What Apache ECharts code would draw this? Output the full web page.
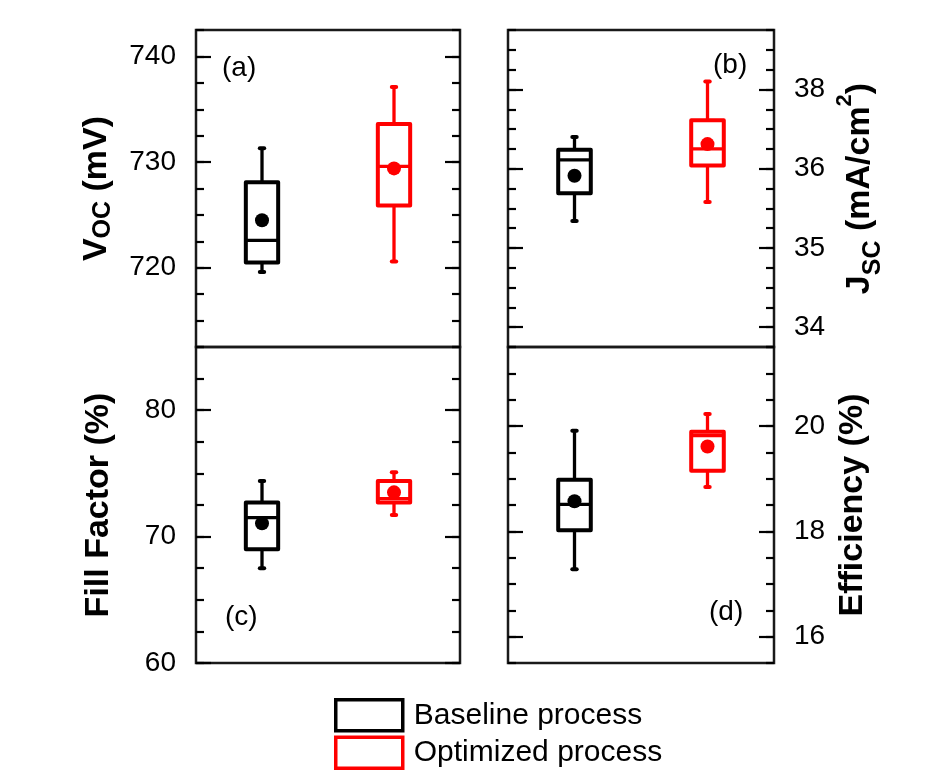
<!DOCTYPE html>
<html><head><meta charset="utf-8">
<script src="https://cdn.jsdelivr.net/npm/echarts@6/dist/echarts.min.js"></script>
<style>html,body{margin:0;padding:0;background:#fff}#c{width:952px;height:782px}</style>
</head><body><div id="c"></div>
<script>
const categories = ['Baseline process', 'Optimized process'];
// each: [low whisker, Q1, median, Q3, high whisker, mean]
const vocBaseline  = [719.6, 720.5, 722.6, 728.1, 731.3, 724.5];
const vocOptimized = [720.6, 725.9, 729.6, 733.6, 737.1, 729.4];
const jscBaseline  = [35.34, 35.69, 36.11, 36.24, 36.40, 35.91];
const jscOptimized = [35.58, 36.04, 36.25, 36.61, 37.10, 36.31];
const ffBaseline   = [67.5, 69.0, 71.5, 72.7, 74.4, 71.05];
const ffOptimized  = [71.7, 72.7, 73.0, 74.4, 75.1, 73.5];
const effBaseline  = [17.28, 18.02, 18.51, 18.98, 19.91, 18.57];
const effOptimized = [18.84, 19.15, 19.82, 19.89, 20.23, 19.61];

const vocTicks = [720, 730, 740];
const jscTicks = [34, 35, 36, 37];
const jscTickLabels = ['34', '35', '36', '38'];
const ffTicks = [60, 70, 80];
const effTicks = [16, 18, 20];
const panelLabels = ['(a)', '(b)', '(c)', '(d)'];

const FONT = 'Liberation Sans';
const BLACK = '#000000', RED = '#ff0000';

const panels = [
  { grid: {left: 196, top: 30, width: 264, height: 317}, min: 712.5, max: 742.5, minor: 2.5,
    ticks: vocTicks, labels: null, side: 'left', name: '{b|V}{s|OC}{b| (mV)}', nameGap: 80, L: 38,
    base: vocBaseline, opt: vocOptimized },
  { grid: {left: 508, top: 30, width: 266, height: 317}, min: 33.75, max: 37.75, minor: 0.25,
    ticks: jscTicks, labels: jscTickLabels, side: 'right', name: '{b|J}{s|SC}{b| (mA/cm}{p|2}{b|)}', nameGap: 60, L: 52,
    base: jscBaseline, opt: jscOptimized },
  { grid: {left: 196, top: 347, width: 264, height: 316}, min: 60, max: 85, minor: 2.5,
    ticks: ffTicks, labels: null, side: 'left', name: '{b|Fill Factor (%)}', nameGap: 78, L: 38,
    base: ffBaseline, opt: ffOptimized },
  { grid: {left: 508, top: 347, width: 266, height: 316}, min: 15.5, max: 21.5, minor: 0.5,
    ticks: effTicks, labels: null, side: 'right', name: '{b|Efficiency (%)}', nameGap: 60, L: 38,
    base: effBaseline, opt: effOptimized }
];

function makeRender(color) {
  return function (params, api) {
    const xi = api.value(0);
    const pLow = api.coord([xi, api.value(1)]);
    const pQ1 = api.coord([xi, api.value(2)]);
    const pMed = api.coord([xi, api.value(3)]);
    const pQ3 = api.coord([xi, api.value(4)]);
    const pHigh = api.coord([xi, api.value(5)]);
    const pMean = api.coord([xi, api.value(6)]);
    const cx = pLow[0];
    const bw = api.size([1, 0])[0] * 0.245;
    const ls = {stroke: color, lineWidth: 3.3, fill: 'none'};
    const cap = {stroke: color, lineWidth: 4, lineCap: 'round'};
    return {
      type: 'group',
      children: [
        {type: 'line', shape: {x1: cx, y1: pHigh[1], x2: cx, y2: pQ3[1]}, style: ls},
        {type: 'line', shape: {x1: cx, y1: pQ1[1], x2: cx, y2: pLow[1]}, style: ls},
        {type: 'line', shape: {x1: cx - 2.2, y1: pHigh[1], x2: cx + 2.2, y2: pHigh[1]}, style: cap},
        {type: 'line', shape: {x1: cx - 2.2, y1: pLow[1], x2: cx + 2.2, y2: pLow[1]}, style: cap},
        {type: 'rect', shape: {x: cx - bw / 2, y: pQ3[1], width: bw, height: pQ1[1] - pQ3[1]},
          style: {stroke: color, lineWidth: 4, fill: 'none', lineJoin: 'round'}},
        {type: 'line', shape: {x1: cx - bw / 2, y1: pMed[1], x2: cx + bw / 2, y2: pMed[1]}, style: ls},
        {type: 'circle', shape: {cx: cx, cy: pMean[1], r: 7}, style: {fill: color}}
      ]
    };
  };
}

const grids = [], xAxes = [], yAxes = [], series = [];
panels.forEach((p, i) => {
  grids.push(Object.assign({show: true, borderWidth: 2.5, borderColor: '#1a1a1a', backgroundColor: 'transparent'}, p.grid));
  xAxes.push({gridIndex: i, type: 'category', data: categories, show: false, boundaryGap: true});
  const opp = p.side === 'left' ? 'right' : 'left';
  const common = {gridIndex: i, type: 'value', min: p.min, max: p.max, splitLine: {show: false},
    axisLine: {show: false, onZero: false}};
  // major ticks + labels + name (primary side)
  yAxes.push(Object.assign({}, common, {
    position: p.side,
    axisTick: {show: true, inside: true, length: 15, lineStyle: {color: BLACK, width: 2.2}, customValues: p.ticks},
    axisLabel: {show: true, customValues: p.ticks, margin: 20, color: BLACK, fontSize: 28, fontFamily: FONT,
      formatter: (v) => { if (p.labels) { const k = p.ticks.indexOf(v); return k >= 0 ? p.labels[k] : ''; } return String(v); }},
    name: p.name, nameLocation: 'middle', nameGap: p.nameGap, nameRotate: 90,
    nameTextStyle: {color: BLACK, fontFamily: FONT, fontSize: 34, fontWeight: 'bold',
      rich: {
        b: {fontFamily: FONT, fontSize: 34, fontWeight: 'bold', lineHeight: p.L, color: BLACK},
        s: {fontFamily: FONT, fontSize: 25, fontWeight: 'bold', lineHeight: p.L - 14, verticalAlign: 'bottom', color: BLACK},
        p: {fontFamily: FONT, fontSize: 22, fontWeight: 'bold', lineHeight: 22, verticalAlign: 'top', color: BLACK}
      }}
  }));
  // minor ticks (primary side)
  yAxes.push(Object.assign({}, common, {
    position: p.side, interval: p.minor,
    axisTick: {show: true, inside: true, length: 8, lineStyle: {color: BLACK, width: 2.2}},
    axisLabel: {show: false}
  }));
  // major ticks (opposite side)
  yAxes.push(Object.assign({}, common, {
    position: opp,
    axisTick: {show: true, inside: true, length: 15, lineStyle: {color: BLACK, width: 2.2}, customValues: p.ticks},
    axisLabel: {show: false}
  }));
  // minor ticks (opposite side)
  yAxes.push(Object.assign({}, common, {
    position: opp, interval: p.minor,
    axisTick: {show: true, inside: true, length: 8, lineStyle: {color: BLACK, width: 2.2}},
    axisLabel: {show: false}
  }));
  series.push({type: 'custom', name: categories[0], xAxisIndex: i, yAxisIndex: i * 4,
    data: [[categories[0]].concat(p.base)], renderItem: makeRender(BLACK), itemStyle: {color: BLACK}, z: 5});
  series.push({type: 'custom', name: categories[1], xAxisIndex: i, yAxisIndex: i * 4,
    data: [[categories[1]].concat(p.opt)], renderItem: makeRender(RED), itemStyle: {color: RED}, z: 5});
});

const labelPos = [[222, 68], [713, 65], [225, 617], [709, 612]];
const graphics = panelLabels.map((t, i) => ({
  type: 'text', x: labelPos[i][0], y: labelPos[i][1], z: 10,
  style: {text: t, fontSize: 28, fontFamily: FONT, fill: BLACK, align: 'left', verticalAlign: 'middle'}
}));

const option = {
  animation: false,
  backgroundColor: '#ffffff',
  grid: grids,
  xAxis: xAxes,
  yAxis: yAxes,
  series: series,
  graphic: graphics,
  legend: {
    orient: 'vertical', left: 334, top: 698, padding: 0, itemGap: 3,
    itemWidth: 67, itemHeight: 31, selectedMode: false,
    textStyle: {fontFamily: FONT, fontSize: 30, color: BLACK, padding: [0, 0, 0, 6], lineHeight: 31},
    data: [
      {name: categories[0], icon: 'rect', itemStyle: {color: 'rgba(0,0,0,0)', borderColor: BLACK, borderWidth: 3.5}},
      {name: categories[1], icon: 'rect', itemStyle: {color: 'rgba(0,0,0,0)', borderColor: RED, borderWidth: 3.5}}
    ]
  }
};
const chart = echarts.init(document.getElementById('c'));
chart.setOption(option);
</script></body></html>
